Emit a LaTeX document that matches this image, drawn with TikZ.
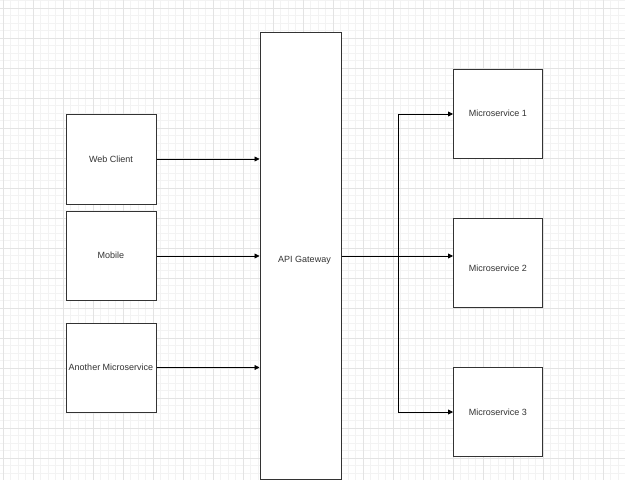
\documentclass[tikz,border=0pt]{standalone}
\usepackage{fontspec}
\setmainfont{Liberation Sans}
\usetikzlibrary{arrows.meta}
\definecolor{gridminor}{HTML}{F3F3F3}
\definecolor{gridmajor}{HTML}{E3E3E3}
\definecolor{boxline}{HTML}{333333}
\definecolor{txt}{HTML}{333333}
\tikzset{
  box/.style={draw=boxline, line width=1pt, fill=white, inner sep=0pt, font=\fontsize{9}{10}\selectfont, text=txt},
  lbl/.style={font=\fontsize{9}{10}\selectfont, text=txt, inner sep=0pt},
  conn/.style={draw=black, line width=0.8pt, -{Triangle[length=5pt,width=5pt]}},
  plain/.style={draw=black, line width=0.8pt}
}
\begin{document}
\begin{tikzpicture}[x=1pt,y=-1pt]
\useasboundingbox (0,0) rectangle (625,480);
\fill[white] (0,0) rectangle (625,480);
% grid
\foreach \i in {0,...,84} {
  \draw[gridminor, line width=0.5pt] ({3+7.5*\i},0) -- ({3+7.5*\i},480);
}
\foreach \i in {0,...,64} {
  \draw[gridminor, line width=0.5pt] (0,{0.5+7.5*\i}) -- (625,{0.5+7.5*\i});
}
\foreach \i in {0,...,21} {
  \draw[gridmajor, line width=0.6pt] ({3+30*\i},0) -- ({3+30*\i},480);
}
\foreach \i in {0,...,16} {
  \draw[gridmajor, line width=0.6pt] (0,{8+30*\i}) -- (625,{8+30*\i});
}
% nodes
\node[box, minimum width=90pt, minimum height=90pt] (web) at (111,159) {Web Client};
\node[box, minimum width=90pt, minimum height=89pt] (mob) at (111,255.5) {Mobile};
\node[box, minimum width=90pt, minimum height=89pt] (ams) at (111,367.5) {Another Microservice};
\node[box, minimum width=81pt, minimum height=447pt] (gw) at (300.5,255.5) {};
\node[lbl] (gwl) at (304.5,260) {API Gateway};
\node[box, minimum width=89pt, minimum height=89pt] (m1) at (498,113.5) {Microservice 1};
\node[box, minimum width=89pt, minimum height=89pt] (m2) at (498,262.5) {};
\node[lbl] (m2l) at (498,268) {Microservice 2};
\node[box, minimum width=89pt, minimum height=89pt] (m3) at (498,412) {Microservice 3};
\coordinate (j) at (398,256);
% connectors
\draw[conn] (web.east) -- (gw.west |- web.east);
\draw[conn] (mob.east |- 0,256) -- (gw.west |- 0,256);
\draw[conn] (ams.east) -- (gw.west |- ams.east);
\draw[conn] (gw.east |- 0,256) -- (m2.west |- 0,256);
\draw[conn] (j) -- (j |- 0,114) -- (m1.west |- 0,114);
\draw[conn] (j) -- (j |- 0,412) -- (m3.west |- 0,412);
\end{tikzpicture}
\end{document}
